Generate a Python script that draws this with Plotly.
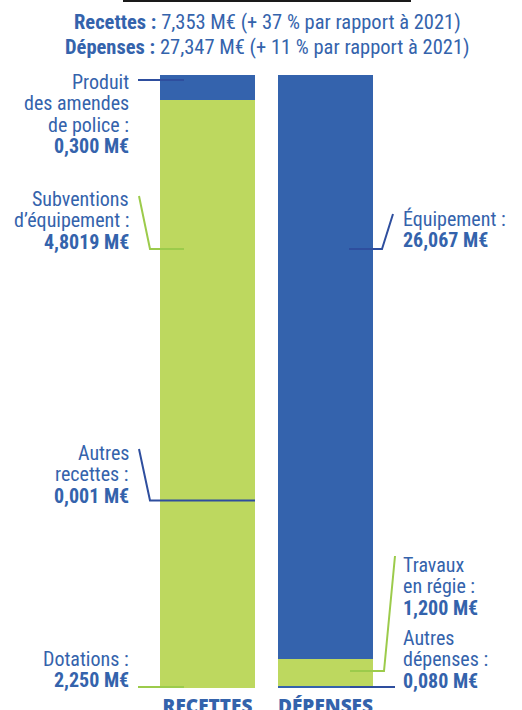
import plotly.graph_objects as go

# ---- data ----
categories = ["RECETTES", "DÉPENSES"]
recettes_labels = ["Dotations", "Autres recettes", "Subventions d’équipement", "Produit des amendes de police"]
recettes_values = [2.250, 0.001, 4.8019, 0.300]
depenses_labels = ["Autres dépenses", "Travaux en régie", "Équipement"]
depenses_values = [0.080, 1.200, 26.067]
recettes_total = 7.353
depenses_total = 27.347
recettes_evol = 37
depenses_evol = 11

BLUE = "#3463AD"
GREEN = "#BDD85F"
LBLUE = "#2E4E9E"
LGREEN = "#9CCB4B"
TXT = "#3463AC"
FONT = "Roboto Condensed, Liberation Sans Narrow, Roboto, sans-serif"

rec_colors = [GREEN, BLUE, GREEN, BLUE]
dep_colors = [BLUE, GREEN, BLUE]

W, H = 522, 710
T, B = 75, 22
plot_h = H - T - B
BAR_STEP = 118.0
X0PX = 207.5

def xd(px):
    return (px - X0PX) / BAR_STEP

def yd(py):
    return (H - B - py) / plot_h * 100.0

def yp(py):
    return (H - B - py) / plot_h

fig = go.Figure()
nlev = max(len(recettes_values), len(depenses_values))
for i in range(nlev):
    rv = recettes_values[i] if i < len(recettes_values) else None
    dv = depenses_values[i] if i < len(depenses_values) else None
    rc = rec_colors[i] if i < len(rec_colors) else BLUE
    dc = dep_colors[i] if i < len(dep_colors) else BLUE
    fig.add_trace(go.Bar(
        x=[0, 1], y=[rv, dv], width=95 / BAR_STEP,
        marker=dict(color=[rc, dc], line=dict(width=0)),
        showlegend=False, hoverinfo="skip",
    ))

rec_pct_dot = recettes_values[0] / sum(recettes_values) * 100

def seg(points, color, width=2):
    path = "M " + " L ".join(f"{xd(px)},{y}" for px, y in points)
    fig.add_shape(type="path", path=path, xref="x", yref="y",
                  line=dict(color=color, width=width))

# leader lines
seg([(138, yd(80)), (184, yd(80))], LBLUE)
seg([(139, yd(196)), (150, yd(249)), (184, yd(249))], LGREEN)
seg([(139, yd(449)), (150, rec_pct_dot), (255, rec_pct_dot)], LBLUE)
seg([(138, yd(687)), (184, yd(687))], LGREEN)
seg([(349, yd(249)), (382, yd(249)), (393, yd(214))], LBLUE)
seg([(350, yd(671)), (384, yd(671)), (395, yd(556))], LGREEN)
seg([(350, yd(687)), (395, yd(687))], LBLUE)

def fmt(v, d=3):
    return f"{v:.{d}f}".replace(".", ",")

labels_left = [
    (["Produit", "des amendes", "de police :", "<b>" + fmt(recettes_values[3]) + " M€</b>"], 82),
    (["Subventions", "d’équipement :", "<b>" + fmt(recettes_values[2], 4) + " M€</b>"], 199),
    (["Autres", "recettes :", "<b>" + fmt(recettes_values[1]) + " M€</b>"], 453),
    (["Dotations :", "<b>" + fmt(recettes_values[0]) + " M€</b>"], 659),
]
labels_right = [
    (["Équipement :", "<b>" + fmt(depenses_values[2]) + " M€</b>"], 219),
    (["Travaux", "en régie :", "<b>" + fmt(depenses_values[1]) + " M€</b>"], 565),
    (["Autres", "dépenses :", "<b>" + fmt(depenses_values[0]) + " M€</b>"], 638),
]
LH = 21.3
def add_lines(lines, top, xpx, anchor):
    for k, ln in enumerate(lines):
        fig.add_annotation(x=xpx / W, y=yp(top + k * LH), xref="paper", yref="paper",
                           text=ln, xanchor=anchor, yanchor="middle", showarrow=False,
                           borderpad=0, font=dict(family=FONT, size=20, color=TXT))
for lines, top in labels_left:
    add_lines(lines, top, 130, "right")
for lines, top in labels_right:
    add_lines(lines, top, 402, "left")

title_lines = [
    f"<b>Recettes :</b> {fmt(recettes_total)} M€ (+ {recettes_evol} % par rapport à 2021)",
    f"<b>Dépenses :</b> {fmt(depenses_total)} M€ (+ {depenses_evol} % par rapport à 2021)",
]
for k, ln in enumerate(title_lines):
    fig.add_annotation(x=267 / W, y=yp(22 + k * 25), xref="paper", yref="paper",
                       text=ln, showarrow=False, xanchor="center", yanchor="middle",
                       borderpad=0, font=dict(family=FONT, size=20.5, color=TXT))

fig.add_shape(type="line", xref="x", yref="paper", x0=xd(123), x1=xd(411),
              y0=yp(1), y1=yp(1), layer="above", line=dict(color="#1a1a1a", width=2))

fig.update_layout(
    width=W, height=H, barmode="stack", barnorm="percent",
    margin=dict(l=0, r=0, t=T, b=B, autoexpand=False),
    paper_bgcolor="white", plot_bgcolor="white",
    xaxis=dict(range=[xd(0), xd(W)], tickvals=[0, 1], ticktext=categories,
               showgrid=False, zeroline=False, showline=False, ticks="",
               ticklabelstandoff=5, automargin=False,
               tickfont=dict(family="Open Sans", size=19, color=TXT, weight=800)),
    yaxis=dict(range=[0, 100], visible=False, automargin=False),
)
fig.write_html("out.html", config={"displayModeBar": False},
               post_script="document.body.style.margin='0';")
